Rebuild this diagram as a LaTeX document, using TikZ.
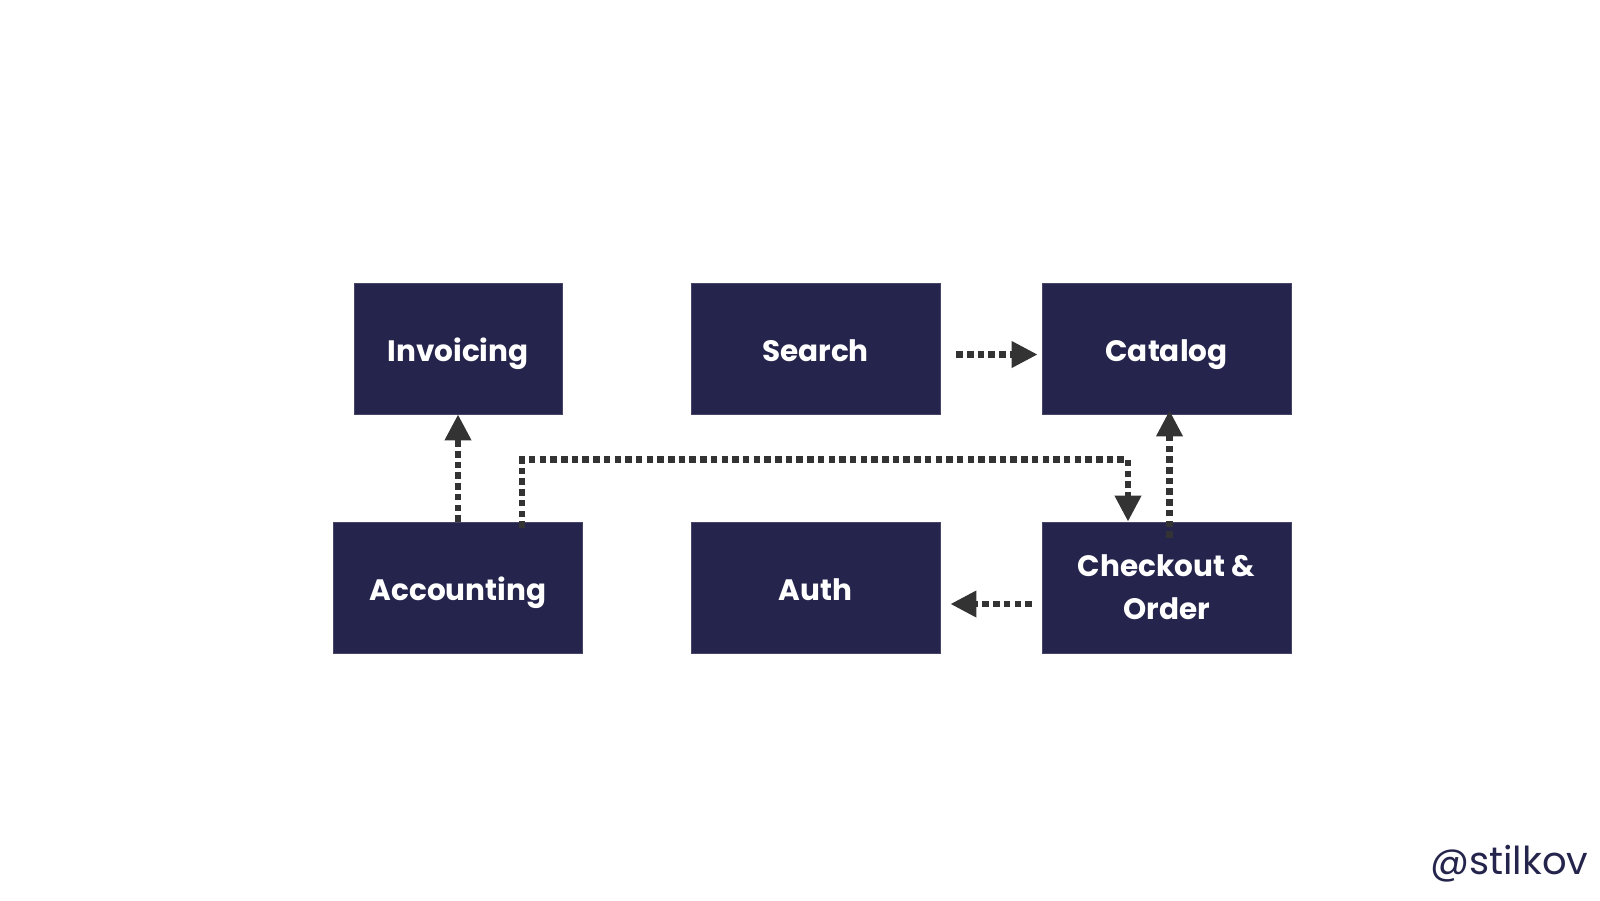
\documentclass[tikz,border=0pt]{standalone}
\usepackage{fontspec}
\setmainfont{Poppins}[BoldFont={* Bold}]
\usetikzlibrary{arrows.meta}
\definecolor{navy}{RGB}{37,36,76}
\definecolor{arrowgray}{RGB}{51,51,51}
\tikzset{
  svc/.style={fill=navy, draw=navy!85!white, line width=0.6pt, inner sep=0pt,
    minimum height=131pt, text=white, font=\bfseries\fontsize{29.5}{43}\selectfont, align=center},
  oneline/.style={text height=25pt, text depth=0pt},
  dep/.style={draw=arrowgray, line width=6.5pt, dash pattern=on 6.5pt off 4.2pt,
    -{Triangle[length=26pt,width=25pt]}, color=arrowgray}
}
\begin{document}
\begin{tikzpicture}[x=1pt,y=-1pt]
\useasboundingbox (0,0) rectangle (1600,900);
\node[svc, oneline, minimum width=208pt] (inv) at (458,348.5) {Invoicing};
\node[svc, oneline, minimum width=249pt] (sea) at (815.5,348.5) {Search};
\node[svc, oneline, minimum width=249pt] (cat) at (1166.5,348.5) {Catalog};
\node[svc, oneline, minimum width=249pt] (acc) at (458,587.5) {Accounting};
\node[svc, oneline, minimum width=249pt] (aut) at (815.5,587.5) {Auth};
\node[svc, minimum width=249pt] (chk) at (1166.5,587.5) {\raisebox{-2pt}{Checkout \&}\\\raisebox{-2pt}{Order}};
\node[text=navy, font=\fontsize{38.5}{42}\selectfont, anchor=east] (tag) at (1592,864) {@stilkov};
% connectors
\draw[dep] (acc.north) -- (inv.south);
\draw[dep] ([xshift=64pt,yshift=-6pt]acc.north) -- ++(0pt,68pt) -| ([xshift=-38.5pt]chk.north);
\draw[dep] ([xshift=3pt,yshift=-16pt]chk.north) -- ([xshift=3pt,yshift=4pt]cat.south);
\draw[dep] ([xshift=16pt,yshift=-6pt]sea.east) -- ([xshift=-4pt,yshift=-6pt]cat.west);
\draw[dep] ([xshift=-10pt,yshift=-16.5pt]chk.west) -- ([xshift=10pt,yshift=-16.5pt]aut.east);
\end{tikzpicture}
\end{document}
